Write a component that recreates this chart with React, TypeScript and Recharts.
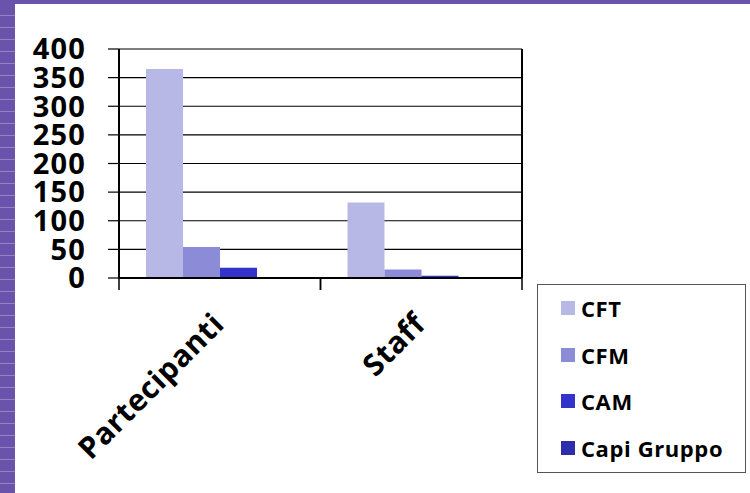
import React from 'react';
import { BarChart, Bar, XAxis, YAxis, CartesianGrid, Legend } from 'recharts';

const CATEGORIES = ['Partecipanti', 'Staff'];
const SERIES = ['CFT', 'CFM', 'CAM', 'Capi Gruppo'];
const COLORS = ['#b8b8e6', '#8b8bd8', '#3333cc', '#2c2cac'];
const CFT = [365, 132];
const CFM = [54, 15];
const CAM = [18, 4];
const CAPI = [0, 0];
const Y_TICKS = [0, 50, 100, 150, 200, 250, 300, 350, 400];

const VALUES = [CFT, CFM, CAM, CAPI];
const data = CATEGORIES.map((name, i) => {
  const row: any = { name };
  SERIES.forEach((s, j) => { row[s] = VALUES[j][i]; });
  return row;
});

const FONT = '"Open Sans", "Noto Sans", sans-serif';

// category label at the centre, tick marks at the band edges
const XTick = (props: any) => {
  const { x, y, payload } = props;
  const half = payload.offset || 0;
  const tx = x + 6;
  const ty = y + 48;
  return (
    <g>
      <line x1={x - half} y1={y} x2={x - half} y2={y + 12} stroke="#000" strokeWidth={1.5} />
      <line x1={x + half} y1={y} x2={x + half} y2={y + 12} stroke="#000" strokeWidth={1.5} />
      <text x={tx} y={ty} textAnchor="end" transform={`rotate(-45 ${tx} ${ty})`}
        style={{ fontFamily: FONT, fontSize: 30, fontWeight: 700, fill: '#000', letterSpacing: 0.5 }}>
        {payload.value}
      </text>
    </g>
  );
};

const LegendBox = () => (
  <div style={{ width: 209, height: 189, border: '1.5px solid #555', boxSizing: 'border-box', background: '#fff' }}>
    {SERIES.map((s, i) => (
      <div key={s} style={{ height: 46.5, display: 'flex', alignItems: 'center', paddingLeft: 23 }}>
        <span style={{ width: 14, height: 14, background: COLORS[i], display: 'inline-block', marginRight: 6 }} />
        <span style={{ fontFamily: FONT, fontSize: 22, fontWeight: 700, color: '#000', letterSpacing: 0.6 }}>{s}</span>
      </div>
    ))}
  </div>
);

export default function App() {
  return (
    <div style={{ position: 'absolute', left: 0, top: 0, width: 750, height: 493, background: '#6b52aa', overflow: 'hidden' }}>
      <div style={{
        position: 'absolute', left: 0, top: 4, width: 15, height: 489,
        background: 'repeating-linear-gradient(180deg, #6b52aa 0px, #6b52aa 11px, #9484c4 11px, #9484c4 12px)',
      }} />
      <div style={{ position: 'absolute', left: 15, top: 4, width: 735, height: 489, background: '#fff' }} />
      <div style={{ position: 'absolute', left: 0, top: 0 }}>
        <BarChart width={750} height={493} data={data} barCategoryGap={27} barGap={0}
          margin={{ top: 49, right: 227, bottom: 0, left: 0 }}>
          <CartesianGrid vertical={false} stroke="#000" strokeWidth={1.2} />
          <XAxis dataKey="name" height={215} interval={0} tickSize={0} tickMargin={0} tickLine={false}
            tick={<XTick />} axisLine={{ stroke: '#000', strokeWidth: 2 }} />
          <YAxis width={119} domain={[0, 400]} ticks={Y_TICKS} interval={0} tickSize={11} tickMargin={22}
            tickLine={{ stroke: '#000', strokeWidth: 1.2 }} axisLine={{ stroke: '#000', strokeWidth: 2 }}
            tick={{ fontFamily: FONT, fontSize: 29, fontWeight: 700, fill: '#000', letterSpacing: 1.2 }} />
          <YAxis yAxisId="r" orientation="right" width={1} domain={[0, 400]} tick={false} tickLine={false}
            axisLine={{ stroke: '#000', strokeWidth: 2 }} />
          {SERIES.map((s, i) => (
            <Bar key={s} dataKey={s} fill={COLORS[i]} isAnimationActive={false} />
          ))}
          <Legend layout="vertical" align="center" verticalAlign="middle" content={<LegendBox />}
            wrapperStyle={{ left: 537, top: 284, width: 209, height: 189 }} />
        </BarChart>
      </div>
    </div>
  );
}
